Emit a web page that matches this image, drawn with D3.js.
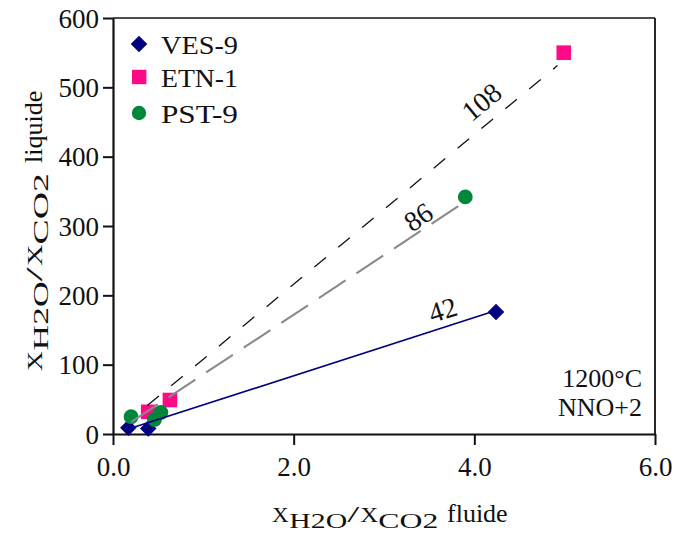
<!DOCTYPE html>
<html><head><meta charset="utf-8">
<script src="https://cdn.jsdelivr.net/npm/d3@7"></script>
<style>
html,body{margin:0;padding:0;background:#fff;}
svg text{font-family:"Liberation Serif","Times New Roman","DejaVu Serif",serif !important;fill:#111;}
</style></head>
<body>
<svg id="chart" width="676" height="533" font-family="Liberation Serif, serif"></svg>
<script>
// ---- data ----
const seriesNames = ["VES-9", "ETN-1", "PST-9"];
const vesX = [0.17, 0.39, 4.24];
const vesY = [9, 8, 176];
const etnX = [0.39, 0.63, 4.99];
const etnY = [32, 49, 550];
const pstX = [0.20, 0.46, 0.53, 3.90];
const pstY = [25, 21, 31, 342];
// ratio lines (slope = label)
const fitLabels = ["42", "108", "86"];
const fitSlopes = [42, 108, 86];
const fitX0 = [0.17, 0.38, 0.20];
const fitX1 = [4.24, 4.92, 3.92];
const fitLabelX = [3.65, 4.08, 3.38];
const fitLabelY = [179, 479, 313];
const xTicks = [0, 2, 4, 6];
const xTickLabels = ["0.0", "2.0", "4.0", "6.0"];
const yTicks = [0, 100, 200, 300, 400, 500, 600];
const notes = ["1200°C", "NNO+2"];
const titleParts = ["X", "H2O", "/", "X", "CO2"];
const xTitleEnd = "fluide";
const yTitleEnd = "liquide";

// ---- layout ----
const svg = d3.select("#chart");
const L = 113, R = 655, T = 18, B = 434;
const x = d3.scaleLinear().domain([0, 6]).range([L, R]);
const y = d3.scaleLinear().domain([0, 600]).range([B, T]);
const colors = ["#000080", "#ff0a86", "#00873a"];
const fitColors = ["#000080", "#111111", "#8a8a8a"];
const fitWidths = [1.7, 1.3, 2.1];
const fitDash = [null, "15,16", "32,13"];
const FS = 26;
const FF = "Liberation Serif, serif";

// frame top & right
svg.append("line").attr("x1", L).attr("x2", R).attr("y1", T).attr("y2", T).attr("stroke", "#111").attr("stroke-width", 1.6);
svg.append("line").attr("x1", R).attr("x2", R).attr("y1", T).attr("y2", B).attr("stroke", "#111").attr("stroke-width", 1.8);

// axes
const gx = svg.append("g").attr("transform", `translate(0,${B})`)
  .call(d3.axisBottom(x).tickValues(xTicks).tickFormat((d, i) => xTickLabels[i]).tickSize(11).tickSizeOuter(0).tickPadding(12));
const gy = svg.append("g").attr("transform", `translate(${L},0)`)
  .call(d3.axisLeft(y).tickValues(yTicks).tickFormat(d3.format("d")).tickSize(10).tickSizeOuter(0).tickPadding(4));
[gx, gy].forEach(g => {
  g.attr("font-family", FF);
  g.select(".domain").attr("stroke", "#111").attr("stroke-width", 2.2);
  g.selectAll(".tick line").attr("stroke", "#111").attr("stroke-width", 2);
  g.selectAll(".tick text").attr("font-size", 27).attr("fill", "#111");
});
gy.selectAll(".tick text").attr("dy", "0.34em");

// markers
const diamond = "M0,-8.3L8.3,0L0,8.3L-8.3,0Z";
const gm = svg.append("g");
gm.selectAll("path.ves").data(vesX.map((d, i) => [d, vesY[i]])).join("path")
  .attr("d", diamond).attr("fill", colors[0])
  .attr("transform", d => `translate(${x(d[0])},${y(d[1])})`);
gm.selectAll("rect.etn").data(etnX.map((d, i) => [d, etnY[i]])).join("rect")
  .attr("x", d => x(d[0]) - 7.3).attr("y", d => y(d[1]) - 7.3)
  .attr("width", 14.6).attr("height", 14.6).attr("fill", colors[1]);
gm.selectAll("circle.pst").data(pstX.map((d, i) => [d, pstY[i]])).join("circle")
  .attr("cx", d => x(d[0])).attr("cy", d => y(d[1])).attr("r", 7.4).attr("fill", colors[2]);

// ratio lines
fitSlopes.forEach((s, i) => {
  svg.append("line")
    .attr("x1", x(fitX0[i])).attr("y1", y(s * fitX0[i]))
    .attr("x2", x(fitX1[i])).attr("y2", y(s * fitX1[i]))
    .attr("stroke", fitColors[i]).attr("stroke-width", fitWidths[i])
    .attr("stroke-dasharray", fitDash[i]);
  const ang = Math.atan2(y(s) - y(0), x(1) - x(0)) * 180 / Math.PI;
  svg.append("text")
    .attr("transform", `translate(${x(fitLabelX[i])},${y(fitLabelY[i])}) rotate(${ang})`)
    .attr("text-anchor", "middle").attr("dominant-baseline", "central")
    .attr("font-size", 28).text(fitLabels[i]);
});

// legend
const legY = [44, 77, 113];
const lg = svg.append("g");
seriesNames.forEach((n, i) => {
  const cy = legY[i];
  if (i === 0) lg.append("path").attr("d", diamond).attr("fill", colors[0]).attr("transform", `translate(139,${cy})`);
  if (i === 1) lg.append("rect").attr("x", 132).attr("y", cy - 7.2).attr("width", 14.4).attr("height", 14.4).attr("fill", colors[1]);
  if (i === 2) lg.append("circle").attr("cx", 139).attr("cy", cy).attr("r", 7.2).attr("fill", colors[2]);
  const t = lg.append("text").attr("font-size", FS).text(n);
  const w = t.node().getComputedTextLength();
  t.attr("transform", `translate(161,${cy + 10}) scale(${77 / w},1)`);
});

// notes
notes.forEach((n, i) => {
  svg.append("text").attr("x", 642).attr("y", 387 + i * 29).attr("text-anchor", "end")
    .attr("font-size", FS).text(n);
});

// axis titles: X with lowered H2O / CO2
const partOff = [0, 17.3, 75.3, 88.3, 106.3];
const partW = [16.7, 58, 12, 18, 60];
const partSize = [22, 22, 23, 22, 22];
const partDy = [0, 6, 0, 0, 6];
function title(g, k, endText, endOff) {
  titleParts.forEach((p, i) => {
    const t = g.append("text").attr("font-size", partSize[i]).text(p);
    const w = t.node().getComputedTextLength();
    t.attr("transform", `translate(${partOff[i] * k},${partDy[i]}) scale(${partW[i] * k / w},1)`);
  });
  g.append("text").attr("x", endOff).attr("y", 0).attr("font-size", FS).text(endText);
}
title(svg.append("g").attr("transform", "translate(272,522)"), 1, xTitleEnd, 175);
title(svg.append("g").attr("transform", "translate(42,371) rotate(-90)"), 1.19, yTitleEnd, 208);
</script>
</body></html>
